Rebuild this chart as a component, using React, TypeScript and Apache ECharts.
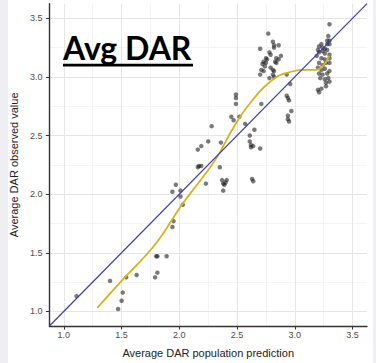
import React, { useEffect, useRef } from "react";
import * as echarts from "echarts";

const xTicks = [1.0, 1.5, 2.0, 2.5, 3.0, 3.5];
const yTicks = [1.0, 1.5, 2.0, 2.5, 3.0, 3.5];
const minorTicks = [1.25, 1.75, 2.25, 2.75, 3.25];
const axisMin = 0.875;
const axisMax = 3.625;

const titleText = "Avg DAR";
const xName = "Average DAR population prediction";
const yName = "Average DAR observed value";

const observedPoints: [number, number][] = [
  [1.11, 1.13], [1.40, 1.26], [1.47, 1.02], [1.50, 1.09], [1.51, 1.16], [1.54, 1.29],
  [1.63, 1.31], [1.79, 1.29], [1.81, 1.33], [1.80, 1.47], [1.81, 1.47], [1.89, 1.47],
  [1.94, 1.72], [1.95, 1.77],
  [1.97, 2.08], [1.94, 2.02], [2.01, 2.03], [2.01, 1.98], [2.03, 1.91],
  [2.16, 2.38], [2.19, 2.41], [2.25, 2.45], [2.28, 2.58], [2.36, 2.44],
  [2.16, 2.23], [2.17, 2.24], [2.19, 2.24], [2.35, 2.23], [2.23, 2.09],
  [2.37, 2.12], [2.38, 2.09], [2.39, 2.08], [2.40, 2.10], [2.41, 2.12], [2.38, 2.03],
  [2.49, 2.85], [2.49, 2.82], [2.49, 2.77], [2.45, 2.66], [2.47, 2.63], [2.52, 2.66],
  [2.57, 2.60], [2.61, 2.50], [2.65, 2.55],
  [2.61, 2.45], [2.62, 2.42], [2.62, 2.40], [2.64, 2.41], [2.70, 2.39],
  [2.63, 2.13], [2.64, 2.11], [2.71, 2.77],
  [2.77, 3.37], [2.70, 3.24], [2.81, 3.30], [2.82, 3.27], [2.82, 3.25], [2.86, 3.27],
  [2.78, 3.21], [2.79, 3.19], [2.75, 3.16], [2.76, 3.15], [2.73, 3.13], [2.84, 3.16],
  [2.86, 3.15], [2.88, 3.18], [2.72, 3.11], [2.74, 3.09], [2.75, 3.12], [2.83, 3.13],
  [2.84, 3.12], [2.71, 3.06], [2.73, 3.05], [2.79, 3.08], [2.81, 3.06], [2.82, 3.05],
  [2.70, 3.02], [2.81, 3.02], [2.82, 3.00], [2.78, 2.99],
  [2.93, 3.02], [2.96, 2.94], [2.93, 2.84], [2.94, 2.82], [2.95, 2.80], [2.97, 2.71],
  [2.94, 2.67], [2.94, 2.64], [2.95, 2.62],
  [3.30, 3.45], [3.29, 3.35], [3.30, 3.31], [3.28, 3.31], [3.28, 3.28], [3.30, 3.28],
  [3.23, 3.28], [3.21, 3.26], [3.24, 3.25], [3.26, 3.24], [3.28, 3.23], [3.20, 3.23],
  [3.21, 3.21], [3.24, 3.22], [3.26, 3.20], [3.30, 3.19], [3.30, 3.16], [3.19, 3.18],
  [3.23, 3.16], [3.26, 3.15], [3.21, 3.12], [3.24, 3.10], [3.27, 3.12], [3.30, 3.12],
  [3.20, 3.08], [3.23, 3.06], [3.26, 3.07], [3.21, 3.03], [3.24, 3.02], [3.28, 3.03],
  [3.30, 3.05], [3.22, 2.99], [3.26, 2.98], [3.29, 2.99], [3.27, 2.95], [3.30, 2.96],
  [3.20, 2.89], [3.23, 2.90], [3.27, 2.92], [3.21, 2.87],
];

const loessX = [1.29, 1.50, 1.79, 2.03, 2.20, 2.33, 2.44, 2.54, 2.64, 2.73, 2.86, 2.95, 3.06, 3.18, 3.24, 3.30];
const loessY = [1.03, 1.26, 1.57, 1.92, 2.14, 2.32, 2.52, 2.68, 2.81, 2.91, 3.01, 3.04, 3.06, 3.06, 3.09, 3.18];

const identityX = [axisMin, axisMax];

const labelFmt = (v: number) =>
  Math.abs(v * 2 - Math.round(v * 2)) < 1e-6 ? v.toFixed(1) : "";

export default function App() {
  const ref = useRef<HTMLDivElement>(null);

  useEffect(() => {
    if (!ref.current) return;
    const chart = echarts.init(ref.current, undefined, { renderer: "svg" });
    const font = "Liberation Sans";
    const gridLine = (vals: number[], color: string) => ({
      type: "scatter",
      data: [[axisMin, axisMin]],
      symbolSize: 0,
      itemStyle: { opacity: 0 },
      silent: true,
      z: 0,
      markLine: {
        silent: true,
        z: 0,
        symbol: ["none", "none"],
        label: { show: false },
        lineStyle: { color, width: 1, type: "solid" },
        data: [
          ...vals.map((v) => ({ xAxis: v })),
          ...vals.map((v) => ({ yAxis: v })),
        ],
      },
    });

    chart.setOption({
      animation: false,
      backgroundColor: "transparent",
      grid: { left: 44.5, right: 9, top: 3.7, bottom: 30.3, containLabel: false },
      xAxis: {
        type: "value",
        min: axisMin,
        max: axisMax,
        name: xName,
        nameLocation: "middle",
        nameGap: 21,
        nameTextStyle: { fontFamily: font, fontSize: 11, color: "#222" },
        axisLine: { show: true, onZero: false, lineStyle: { color: "#333", width: 1.4 } },
        axisTick: { show: true, length: 3.5, customValues: xTicks, lineStyle: { color: "#333", width: 1 } },
        axisLabel: { customValues: xTicks, formatter: labelFmt, fontFamily: font, fontSize: 9, color: "#4d4d4d", margin: 4.5 },
        splitLine: { show: false },
      },
      yAxis: {
        type: "value",
        min: axisMin,
        max: axisMax,
        name: yName,
        nameLocation: "middle",
        nameGap: 26,
        nameTextStyle: { fontFamily: font, fontSize: 11, color: "#222" },
        axisLine: { show: true, onZero: false, lineStyle: { color: "#333", width: 1.4 } },
        axisTick: { show: true, length: 3.5, customValues: yTicks, lineStyle: { color: "#333", width: 1 } },
        axisLabel: { customValues: yTicks, formatter: labelFmt, fontFamily: font, fontSize: 9, color: "#4d4d4d", margin: 7 },
        splitLine: { show: false },
      },
      graphic: [
        {
          type: "text",
          x: 63,
          y: 47,
          z: 100,
          style: {
            text: titleText,
            fontFamily: "Lato",
            fontWeight: "bold",
            fontSize: 32,
            fill: "#000",
            align: "left",
            verticalAlign: "middle",
          },
        },
        {
          type: "rect",
          z: 100,
          shape: { x: 63, y: 63.8, width: 130, height: 2.6 },
          style: { fill: "#000" },
        },
      ],
      series: [
        gridLine(minorTicks, "#f3f3f3"),
        gridLine(xTicks, "#e6e6e6"),
        {
          type: "scatter",
          data: observedPoints,
          symbolSize: 4.5,
          itemStyle: { color: "rgba(25,25,25,0.72)" },
          z: 3,
        },
        {
          type: "line",
          data: loessX.map((x, i) => [x, loessY[i]]),
          smooth: 0.4,
          showSymbol: false,
          lineStyle: { color: "#d6b41e", width: 1.8 },
          z: 4,
        },
        {
          type: "line",
          data: identityX.map((x) => [x, x]),
          showSymbol: false,
          lineStyle: { color: "#3d3db0", width: 1.2 },
          z: 5,
        },
      ],
    });
    return () => chart.dispose();
  }, []);

  return (
    <div
      style={{
        position: "fixed",
        left: 0,
        top: 0,
        width: 376,
        height: 363,
        background:
          "linear-gradient(to right, #eeeef3 0px, #eeeef3 8px, #ffffff 8px, #ffffff 373px, #eeeef3 373px)",
      }}
    >
      <div ref={ref} style={{ width: 376, height: 363 }} />
    </div>
  );
}
